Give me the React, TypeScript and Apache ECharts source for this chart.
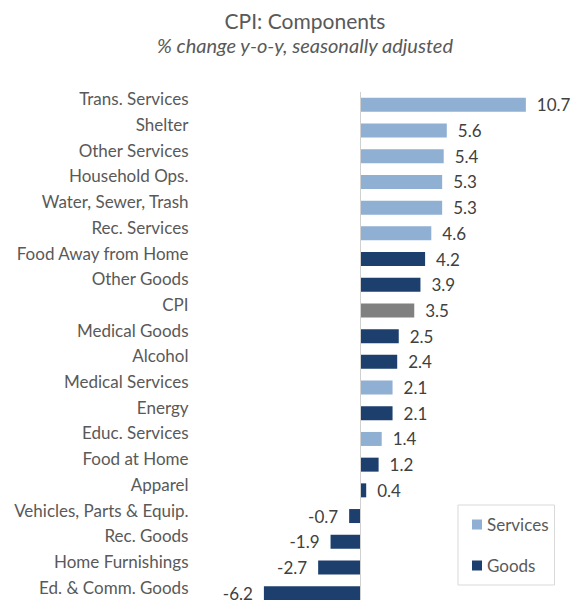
import React, { useEffect, useRef } from "react";
import * as echarts from "echarts";

const categories = [
  "Trans. Services", "Shelter", "Other Services", "Household Ops.", "Water, Sewer, Trash",
  "Rec. Services", "Food Away from Home", "Other Goods", "CPI", "Medical Goods", "Alcohol",
  "Medical Services", "Energy", "Educ. Services", "Food at Home", "Apparel",
  "Vehicles, Parts & Equip.", "Rec. Goods", "Home Furnishings", "Ed. & Comm. Goods",
];
const values = [10.7, 5.6, 5.4, 5.3, 5.3, 4.6, 4.2, 3.9, 3.5, 2.5, 2.4, 2.1, 2.1, 1.4, 1.2, 0.4, -0.7, -1.9, -2.7, -6.2];
const groups = ["S", "S", "S", "S", "S", "S", "G", "G", "C", "G", "G", "S", "G", "S", "G", "G", "G", "G", "G", "G"];

const COLORS: Record<string, string> = { S: "#8FAFD3", G: "#1C3F6E", C: "#808080" };
const FONT = "Lato, 'Open Sans', sans-serif";
const TEXT = "#595959";

function seriesFor(key: string, name: string) {
  return {
    name,
    type: "bar",
    barWidth: 14,
    barGap: "-100%",
    itemStyle: { color: COLORS[key] },
    data: values.map((v, i) =>
      groups[i] === key
        ? {
            value: v,
            label: { position: v < 0 ? "left" : "right" },
          }
        : null
    ),
    label: {
      show: true,
      distance: 11,
      color: "#404040",
      fontSize: 17,
      fontFamily: FONT,
      formatter: (p: any) => Number(p.value).toFixed(1),
    },
  };
}

export default function App() {
  const ref = useRef<HTMLDivElement>(null);
  useEffect(() => {
    if (!ref.current) return;
    const chart = echarts.init(ref.current, undefined, { renderer: "svg" });
    const services: any = seriesFor("S", "Services");
    services.markLine = {
      silent: true,
      symbol: "none",
      label: { show: false },
      lineStyle: { color: "#d0d0d0", width: 1, type: "solid" },
      data: [{ xAxis: 0 }],
    };
    chart.setOption({
      animation: false,
      backgroundColor: "#ffffff",
      title: {
        text: "CPI: Components",
        subtext: "% change y-o-y, seasonally adjusted",
        left: 300,
        textAlign: "center",
        top: 5,
        itemGap: 4,
        textStyle: { fontFamily: FONT, fontSize: 21, fontWeight: "normal", color: TEXT },
        subtextStyle: { fontFamily: FONT, fontSize: 20, fontStyle: "italic", color: TEXT },
      },
      legend: {
        data: ["Services", "Goods"],
        orient: "vertical",
        left: 458,
        top: 505,
        padding: [11, 6, 11, 14],
        itemGap: 24,
        itemWidth: 10,
        itemHeight: 10,
        icon: "rect",
        borderColor: "#d9d9d9",
        borderWidth: 1,
        textStyle: { fontFamily: FONT, fontSize: 17, color: TEXT },
      },
      grid: { left: 251.5, right: 44.5, top: 92, height: 514 },
      xAxis: {
        type: "value",
        min: -7,
        max: 11,
        show: false,
      },
      yAxis: {
        type: "category",
        inverse: true,
        data: categories,
        axisLine: { show: false },
        axisTick: { show: false },
        axisLabel: {
          margin: 63,
          fontFamily: FONT,
          fontSize: 17,
          color: TEXT,
          verticalAlign: "bottom",
          lineHeight: 12,
        },
      },
      series: [services, seriesFor("G", "Goods"), seriesFor("C", "CPI")],
    });
    return () => chart.dispose();
  }, []);
  return (
    <div
      ref={ref}
      style={{ position: "fixed", left: 0, top: 0, width: 575, height: 620 }}
    />
  );
}
